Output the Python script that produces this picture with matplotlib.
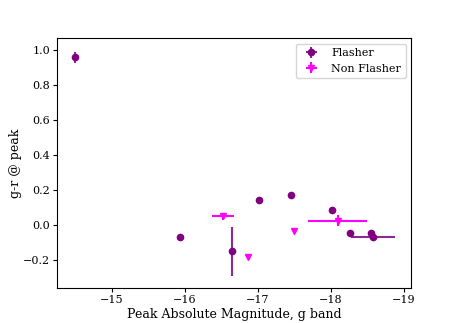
import numpy as np
import matplotlib
matplotlib.use('Agg')
import matplotlib.pyplot as plt

plt.rcParams['font.family'] = 'DejaVu Serif'
plt.rcParams['font.size'] = 8

# Flasher events
fl_mag = [-14.50, -15.93, -16.65, -17.02, -17.45, -18.02, -18.26, -18.55, -18.58]
fl_col = [0.955, -0.07, -0.15, 0.142, 0.168, 0.085, -0.044, -0.047, -0.066]
fl_magerr = [0.0, 0.0, 0.0, 0.0, 0.0, 0.0, 0.0, 0.0, 0.30]
fl_colerr = [0.03, 0.0, 0.14, 0.0, 0.0, 0.0, 0.0, 0.0, 0.0]

# Non flasher events
nf_mag = [-16.52, -16.87, -17.49, -18.09]
nf_col = [0.05, -0.18, -0.033, 0.025]
nf_magerr = [0.15, 0.0, 0.0, 0.40]
nf_colerr = [0.02, 0.0, 0.0, 0.03]

fig, ax = plt.subplots(figsize=(4.57, 3.23), dpi=100)
fig.subplots_adjust(left=0.125, right=0.9, top=0.882, bottom=0.108)

ax.errorbar(fl_mag, fl_col, xerr=fl_magerr, yerr=fl_colerr, fmt='o',
            color='purple', ms=4.5, elinewidth=1.5, ecolor='#8e2a8e', label='Flasher')
ax.errorbar(nf_mag, nf_col, xerr=nf_magerr, yerr=nf_colerr, fmt='v',
            color='magenta', ms=4.5, elinewidth=1.5, label='Non Flasher')

ax.set_xlim(-14.25, -19.1)
ax.set_ylim(-0.36, 1.065)
ax.set_xticks([-15, -16, -17, -18, -19])
ax.tick_params(labelsize=8, length=3, pad=2)
ax.set_xlabel('Peak Absolute Magnitude, g band', fontsize=9, labelpad=2)
ax.set_ylabel('g-r @ peak', fontsize=9, labelpad=1)
ax.legend(loc='upper right', fontsize=8)

plt.savefig('out.png', dpi=100)
